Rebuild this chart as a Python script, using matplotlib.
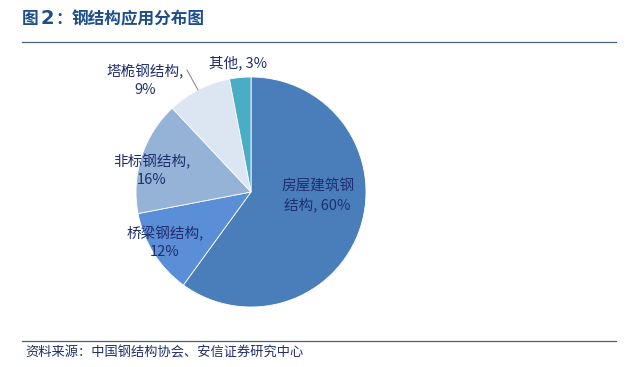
import matplotlib
matplotlib.use("Agg")
import matplotlib.pyplot as plt
from matplotlib.lines import Line2D

plt.rcParams['font.family'] = ['Noto Sans CJK SC', 'DejaVu Sans']

# data
categories = ["房屋建筑钢\n结构, 60%", "桥梁钢结构,\n12%", "非标钢结构,\n16%", "塔桅钢结构,\n9%", "其他, 3%"]
shares = [60, 12, 16, 9, 3]
colors = ["#4A7EBB", "#5A8FD8", "#95B3D7", "#DCE6F2", "#4BACC6"]
# label anchor points in pie units (radius = 1)
label_pos = [(0.58, -0.03), (-0.75, -0.44), (-0.86, 0.19), (-0.92, 0.97), (-0.11, 1.12)]

title_num = "2"
title_rest = "钢结构应用分布图"
source = "资料来源：中国钢结构协会、安信证券研究中心"
text_color = "#1F2E6E"
title_color = "#1F4E8C"

W, H = 640, 367
fig = plt.figure(figsize=(W / 100, H / 100), dpi=100)

# pie centre ~(251, 192) px, radius ~115 px
cx, cy, r = 251, 192, 115
ax = fig.add_axes([(cx - r) / W, (H - cy - r) / H, 2 * r / W, 2 * r / H])
ax.pie(shares, colors=colors, startangle=90, counterclock=False, radius=1,
       wedgeprops=dict(linewidth=0.6, edgecolor="white"))
ax.set_xlim(-1, 1)
ax.set_ylim(-1, 1)
ax.set_aspect("equal")
ax.axis("off")

for lab, (x, y) in zip(categories, label_pos):
    ax.text(x, y, lab, ha="center", va="center", fontsize=10.5,
            color=text_color, linespacing=1.35, clip_on=False)

# leader line for the 9% slice
ax.plot([(187 - cx) / r, (198 - cx) / r], [(cy - 70) / r, (cy - 90) / r],
        color="#7F7F7F", lw=0.7, clip_on=False)

# title pieces
ty = 1 - 19 / H
fig.text(22 / W, ty, "图", fontsize=12, fontweight="bold", color=title_color, va="center")
fig.text(41 / W, ty + 1 / H, title_num, fontsize=14, fontweight="bold",
         color=title_color, va="center", family="DejaVu Sans")
fig.text(55 / W, ty, "：", fontsize=12, fontweight="bold", color=title_color, va="center")
fig.text(72 / W, ty, title_rest, fontsize=12, fontweight="bold", color=title_color, va="center")

# rules
fig.add_artist(Line2D([22 / W, 616 / W], [1 - 42 / H, 1 - 42 / H],
                      color="#4A5F7A", lw=0.9))
fig.add_artist(Line2D([22 / W, 616 / W], [1 - 341 / H, 1 - 341 / H],
                      color="#4A5F7A", lw=0.9))
fig.text(25 / W, 1 - 353 / H, source, fontsize=9.5, style="italic",
         color=text_color, va="center")

fig.savefig("out.png", dpi=100, facecolor="white")
